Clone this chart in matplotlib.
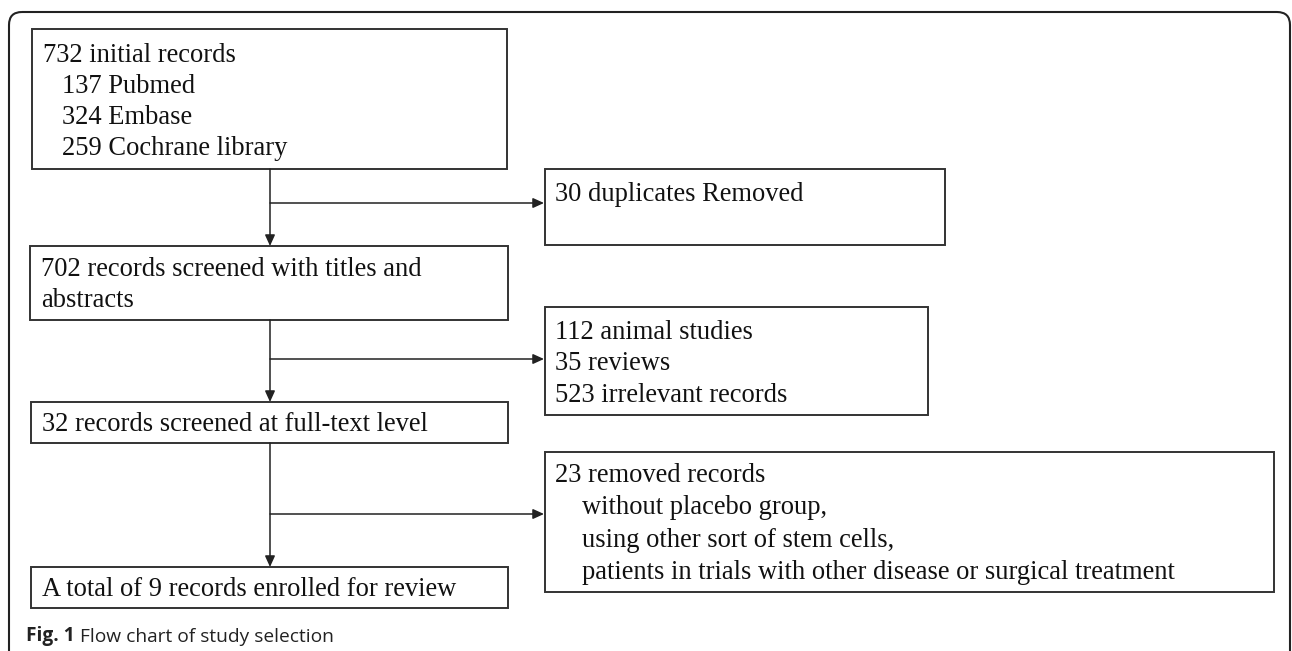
import matplotlib
matplotlib.use("Agg")
import matplotlib.pyplot as plt
from matplotlib.patches import Rectangle, FancyBboxPatch

# text of each box in the flow chart (top to bottom, left then right)
initial_lines = ["732 initial records", "137 Pubmed", "324 Embase", "259 Cochrane library"]
duplicate_lines = ["30 duplicates Removed"]
screened_lines = ["702 records screened with titles and", "abstracts"]
excluded_lines = ["112 animal studies", "35 reviews", "523 irrelevant records"]
fulltext_lines = ["32 records screened at full-text level"]
removed_lines = ["23 removed records", "without placebo group,",
                 "using other sort of stem cells,",
                 "patients in trials with other disease or surgical treatment"]
final_lines = ["A total of 9 records enrolled for review"]
caption_bold = "Fig. 1"
caption_text = "Flow chart of study selection"

# layout in pixels: box (x0, y0, x1, y1), first line centre, line step, indented lines
layout = [
    (initial_lines, (32, 29, 507, 169), 53, 31, [1, 2, 3]),
    (duplicate_lines, (545, 169, 945, 245), 192, 31, []),
    (screened_lines, (30, 246, 508, 320), 267, 31, []),
    (excluded_lines, (545, 307, 928, 415), 330, 31.5, []),
    (fulltext_lines, (31, 402, 508, 443), 422, 31, []),
    (removed_lines, (545, 452, 1274, 592), 473, 32.3, [1, 2, 3]),
    (final_lines, (31, 567, 508, 608), 587, 31, []),
]
spine_x = 270
down_arrows = [(169, 246), (320, 402), (443, 567)]
side_arrows = [203, 359, 514]
side_arrow_end = 544

W, H = 1292, 651
fig = plt.figure(figsize=(W / 100, H / 100), dpi=100)
ax = fig.add_axes([0, 0, 1, 1])
ax.set_xlim(0, W)
ax.set_ylim(H, 0)
ax.axis("off")

edge = "#333333"
serif = "Liberation Serif"

# outer rounded frame (runs off the bottom)
frame = FancyBboxPatch((9, 12), 1281, 700, boxstyle="round,pad=0,rounding_size=13",
                       facecolor="none", edgecolor="#222222", lw=1.5)
ax.add_patch(frame)

for lines, (x0, y0, x1, y1), first_y, step, indented in layout:
    ax.add_patch(Rectangle((x0, y0), x1 - x0, y1 - y0, facecolor="white",
                           edgecolor=edge, lw=1.4))
    pad = 11 if x0 < 100 else 10
    for i, line in enumerate(lines):
        indent = (19 if x0 < 100 else 27) if i in indented else 0
        ax.text(x0 + pad + indent, first_y + i * step + 2.5, line, fontsize=19.1,
                family=serif, color="#111111", va="center", ha="left")

arrow_style = dict(arrowstyle="-|>,head_length=0.55,head_width=0.25", color="#222222",
                   lw=1.1, shrinkA=0, shrinkB=0, mutation_scale=12)
for ya, yb in down_arrows:
    ax.annotate("", xy=(spine_x, yb), xytext=(spine_x, ya), arrowprops=arrow_style)
for y in side_arrows:
    ax.annotate("", xy=(side_arrow_end, y), xytext=(spine_x, y), arrowprops=arrow_style)

# caption
cap = ax.text(26, 636, caption_bold, fontsize=13.8, family="Open Sans",
              fontweight="bold", color="#222222", va="center", ha="left")
ax.annotate(" " + caption_text, xy=(1, 0), xycoords=cap, va="bottom", ha="left",
            fontsize=13.8, family="Open Sans", color="#222222")

fig.savefig("out.png", dpi=100)
